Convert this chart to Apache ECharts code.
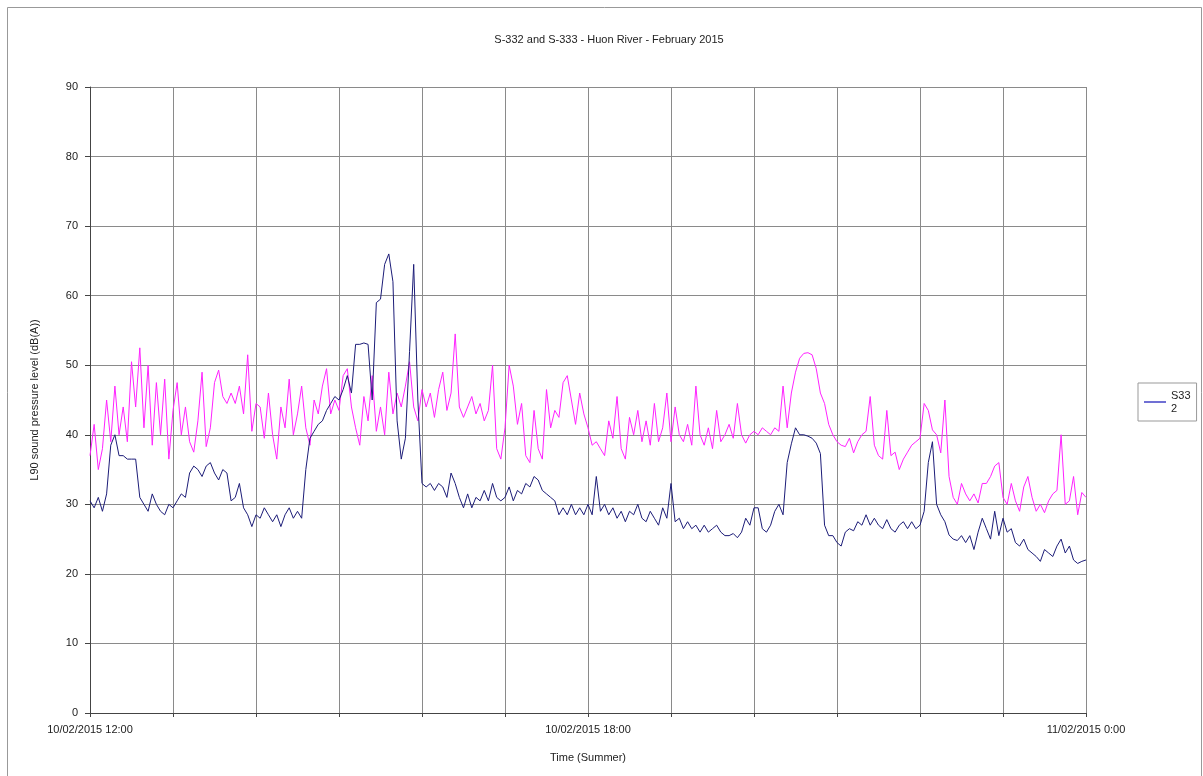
<!DOCTYPE html>
<html>
<head>
<meta charset="utf-8">
<style>html,body{margin:0;padding:0;background:#fff;}#c{width:1203px;height:776px;}</style>
<script src="https://cdn.jsdelivr.net/npm/echarts@6/dist/echarts.min.js"></script>
</head>
<body>
<div id="c"></div>
<script>
// Time axis: minutes after 10/02/2015 12:00, one reading every 3 minutes
var stepMinutes = 3;
var xTickLabels = {0: '10/02/2015 12:00', 360: '10/02/2015 18:00', 720: '11/02/2015 0:00'};
var yTicks = [0, 10, 20, 30, 40, 50, 60, 70, 80, 90];

// S332 (navy) L90 dB(A)
var s332 = [
  30.5,29.5,31,29,31.5,38.5,40,37,37,36.5,36.5,36.5,31,30,29,31.5,30,29,28.5,30,29.5,
  30.5,31.5,31,34.5,35.5,35,34,35.5,36,34.5,33.5,35,34.5,30.5,31,33,29.5,28.5,26.8,28.5,
  28,29.5,28.5,27.5,28.5,26.8,28.5,29.5,28,29,28,35,39.5,40.5,41.5,42,43.5,44.5,45.5,45,
  46.5,48.5,46,53,53,53.2,53,45,59,59.5,64.5,66,62,42,36.5,39.5,52,64.5,45,33,
  32.5,33,32,33,32.5,31,34.5,33,31,29.5,31.5,29.5,31,30.5,32,30.5,33,31,30.5,31,
  32.5,30.5,32,31.5,33,32.5,34,33.5,32,31.5,31,30.5,28.5,29.5,28.5,30,28.5,29.5,28.5,30,
  28.5,34,29,30,28.5,29.5,28,29,27.5,29,28.5,30,28,27.5,29,28,27,29.5,28,33,
  27.5,28,26.5,27.5,26.5,27,26,27,26,26.5,27,26,25.5,25.5,25.8,25.2,26,28,27,29.5,
  29.5,26.5,26,27,29,30,28.5,36,38.7,41,40,40,39.8,39.5,38.8,37.3,27,25.5,25.5,24.5,
  24,26,26.5,26.2,27.5,27,28.5,27,28,27,26.5,27.8,26.5,26,27,27.5,26.5,27.5,26.5,27,
  29,36,39,30,28.5,27.5,25.6,25,24.8,25.5,24.5,25.5,23.5,26,28,26.5,25,29,25.5,28,
  26,26.5,24.5,24,25,23.5,23,22.5,21.8,23.5,23,22.5,24,25,23,24,22,21.5,21.8,22
];

// S333 (magenta) L90 dB(A)
var s333 = [
  37,41.5,35,38,45,39,47,40,44,39,50.5,44,52.5,41,50,38.5,47.5,40,48,36.5,43.5,
  47.5,40,44,39,37.5,42,49,38.3,41,47.5,49.3,45.5,44.5,46,44.5,47,43,51.5,40.5,44.5,
  44,39.5,46,40,36.5,44,41,48,40,43,47,41,38.5,45,43,47,49.5,43,45,43.5,
  48.5,49.5,44,41,38.5,45.5,42,48.5,40.5,44,40,49,43,46,44,47,50.5,44,42,46.5,
  44,46,42.5,46.5,49,43.5,46,54.5,44,42.5,44,45.5,43,44.5,42,43.5,50,38,36.5,41,
  50,47,41.5,44.5,37,36,43.5,38,36.5,46.5,41,43.5,42.5,47.5,48.5,45,41.5,46,43,41,
  38.5,39,38,37,42,39.5,45.5,38,36.5,42.5,40,43.5,39,42,38.5,44.5,39,41,46,39,
  44,40,39,41.5,38.5,47,40,38.5,41,38,43.5,39,40,41.5,39.5,44.5,40,38.8,40,40.5,
  40,41,40.5,40,41,40.5,47,41,46,49,51,51.7,51.8,51.5,49.5,46,44.5,41.5,40,39,
  38.5,38.3,39.5,37.4,39,40,40.5,45.5,38.5,37,36.5,43.5,37,37.5,35,36.5,37.5,38.5,39,39.5,
  44.5,43.5,40.7,40,37.4,45,34,31,30,33,31.5,30.5,31.5,30.2,33,33,34,35.5,36,31,
  30,33,30.5,29,32.5,34,31,29,30,28.8,30.5,31.5,32,40,30,30.5,34,28.5,31.7,31
];

function pairs(arr) {
  return arr.map(function (v, i) { return [i * stepMinutes, v]; });
}

var chart = echarts.init(document.getElementById('c'), null, {renderer: 'canvas'});
var font = 'Liberation Sans, Arial, sans-serif';
chart.setOption({
  animation: false,
  backgroundColor: '#fff',
  textStyle: {fontFamily: font},
  title: {
    text: 'S-332 and S-333 - Huon River - February 2015',
    left: 604, top: 29, textAlign: 'center',
    textStyle: {fontSize: 11, fontWeight: 'normal', color: '#222', fontFamily: font}
  },
  graphic: [
    {type: 'rect', shape: {x: 7.5, y: 7.5, width: 1194, height: 800}, style: {fill: 'none', stroke: '#999', lineWidth: 1}, silent: true}
  ],
  legend: {
    data: [{name: 'S332', icon: 'rect'}],
    orient: 'vertical',
    left: 1138, top: 383,
    borderColor: '#999', borderWidth: 1,
    padding: [6, 6, 6, 6],
    itemWidth: 22, itemHeight: 2, itemGap: 4,
    formatter: function () { return 'S33\n2'; },
    textStyle: {fontSize: 11, color: '#222', lineHeight: 13, fontFamily: font}
  },
  grid: {left: 90, right: 117, top: 87, bottom: 63, containLabel: false},
  xAxis: {
    type: 'value', min: 0, max: 720, interval: 60,
    name: 'Time (Summer)', nameLocation: 'middle', nameGap: 39,
    nameTextStyle: {fontSize: 11, color: '#222', fontFamily: font},
    axisLine: {show: true, lineStyle: {color: '#444', width: 1}},
    axisTick: {show: true, length: 4, lineStyle: {color: '#444'}},
    splitLine: {show: true, lineStyle: {color: '#8a8a8a', width: 1}},
    axisLabel: {
      fontSize: 11, color: '#222', margin: 11, showMinLabel: true, showMaxLabel: true,
      formatter: function (v) { return xTickLabels[v] || ''; }
    }
  },
  yAxis: {
    type: 'value', min: 0, max: 90, interval: 10,
    name: 'L90 sound pressure level (dB(A))', nameLocation: 'middle', nameGap: 50, nameRotate: 90,
    nameTextStyle: {fontSize: 11, color: '#222', fontFamily: font},
    axisLine: {show: true, lineStyle: {color: '#444', width: 1}},
    axisTick: {show: true, length: 5, inside: false, lineStyle: {color: '#444'}},
    splitLine: {show: true, lineStyle: {color: '#8a8a8a', width: 1}},
    axisLabel: {fontSize: 11, color: '#222', margin: 12,
      formatter: function (v) { return yTicks.indexOf(v) >= 0 ? String(v) : ''; }}
  },
  series: [
    {name: 'S333', type: 'line', data: pairs(s333), symbol: 'none', lineStyle: {color: '#ff22ff', width: 1}, itemStyle: {color: '#ff22ff'}, z: 2},
    {name: 'S332', type: 'line', data: pairs(s332), symbol: 'none', lineStyle: {color: '#1c1c78', width: 1}, itemStyle: {color: '#7070d4'}, z: 3}
  ]
});
</script>
</body>
</html>
